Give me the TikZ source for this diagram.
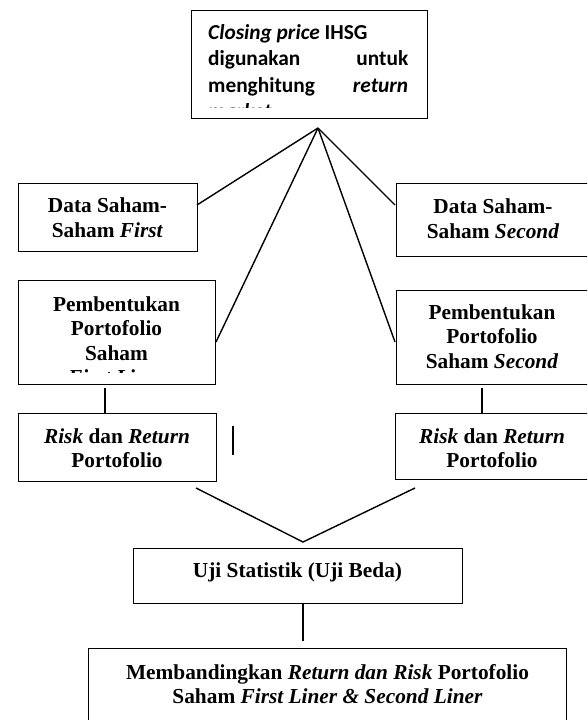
\documentclass[tikz,border=0pt]{standalone}
\usepackage{fontspec}
\setmainfont{Liberation Serif}
\newfontfamily\calibrifont{Carlito}
\begin{document}
\begin{tikzpicture}[x=1pt,y=-1pt,
  box/.style={draw, line width=1.4pt, rectangle, inner sep=0pt, anchor=north west},
  ln/.style={line width=1.4pt},
  txt/.style={anchor=base, inner sep=0pt, font=\fontsize{21.33}{24.5}\selectfont\bfseries},
  ctxt/.style={anchor=base west, inner sep=0pt, font=\calibrifont\fontsize{21.33}{26}\selectfont\bfseries}]
\useasboundingbox (0,0) rectangle (587,720);
\clip (0,0) rectangle (587,720);
\fill[white] (0,0) rectangle (587,720);

% boxes
\node[box, minimum width=236, minimum height=108] (top) at (191,10) {};
\node[box, minimum width=179, minimum height=68] (dsf) at (18,183) {};
\node[box, minimum width=194, minimum height=73] (dss) at (396,183) {};
\node[box, minimum width=197, minimum height=104] (pf) at (18,280) {};
\node[box, minimum width=194, minimum height=94] (ps) at (396,290) {};
\node[box, minimum width=198, minimum height=68] (rf) at (18,413) {};
\node[box, minimum width=195, minimum height=66] (rs) at (395,413) {};
\node[box, minimum width=329, minimum height=55] (uji) at (133,548) {};
\node[box, minimum width=478, minimum height=100] (cmp) at (88,648) {};

% top box text (clipped)
\begin{scope}
\clip (192,11) rectangle (426,107.5);
\node[ctxt] (t1) at (208,39) {\makebox[200pt][l]{\itshape Closing price\/ \upshape IHSG}};
\node[ctxt] (t2) at (208,65.5) {\makebox[200pt][s]{digunakan untuk}};
\node[ctxt] (t3) at (208,92) {\makebox[200pt][s]{menghitung \itshape return}};
\node[ctxt] (t4) at (208,118.5) {\itshape market};
\end{scope}

% Data Saham
\node[txt] (dsf1) at (107.5,212.5) {Data Saham-};
\node[txt] (dsf2) at (107.5,237) {Saham \textit{First}};
\node[txt] (dss1) at (493,213) {Data Saham-};
\node[txt] (dss2) at (493,238) {Saham \textit{Second}};

% Pembentukan
\begin{scope}
\clip (19,281) rectangle (214,372.5);
\node[txt] (pf1) at (116.5,311) {Pembentukan};
\node[txt] (pf2) at (116.5,335.5) {Portofolio};
\node[txt] (pf3) at (116.5,360) {Saham};
\node[txt] (pf4) at (116.5,384.5) {\textit{First Liner}};
\end{scope}
\node[txt] (ps1) at (492,319) {Pembentukan};
\node[txt] (ps2) at (492,343.5) {Portofolio};
\node[txt] (ps3) at (492,368) {Saham \textit{Second}};

% Risk
\node[txt] (rf1) at (117,443) {\textit{Risk} dan \textit{Return}};
\node[txt] (rf2) at (117,467.5) {Portofolio};
\node[txt] (rs1) at (492,443) {\textit{Risk} dan \textit{Return}};
\node[txt] (rs2) at (492,467.5) {Portofolio};

% Uji
\node[txt] (uji1) at (297.5,577) {Uji Statistik (Uji Beda)};

% Compare
\node[txt] (cmp1) at (327.5,679) {Membandingkan \textit{Return dan Risk} Portofolio};
\node[txt] (cmp2) at (327.5,703.5) {Saham \textit{First Liner \& Second Liner}};

% connectors
\coordinate (apex) at (318,128);
\coordinate (dsfE) at (197,205);
\coordinate (dssW) at (395,205);
\coordinate (pfE) at (216,342);
\coordinate (psW) at (395,342);
\draw[ln] (apex) -- (dsfE);
\draw[ln] (apex) -- (dssW);
\draw[ln] (apex) -- (pfE);
\draw[ln] (apex) -- (psW);

\coordinate (pfB) at (105,388);
\coordinate (rfT) at (105,413);
\draw[ln] (pfB) -- (rfT);
\coordinate (psB) at (482,388);
\coordinate (rsT) at (482,413);
\draw[ln] (psB) -- (rsT);

\coordinate (s1) at (233,426);
\coordinate (s2) at (233,455);
\draw[ln] (s1) -- (s2);

\coordinate (rfV) at (196,488);
\coordinate (rsV) at (415,488);
\coordinate (vtip) at (303,542);
\draw[ln] (rfV) -- (vtip) -- (rsV);

\coordinate (ujiB) at (303,603);
\coordinate (cmpT) at (303,641);
\draw[ln] (ujiB) -- (cmpT);
\end{tikzpicture}
\end{document}
